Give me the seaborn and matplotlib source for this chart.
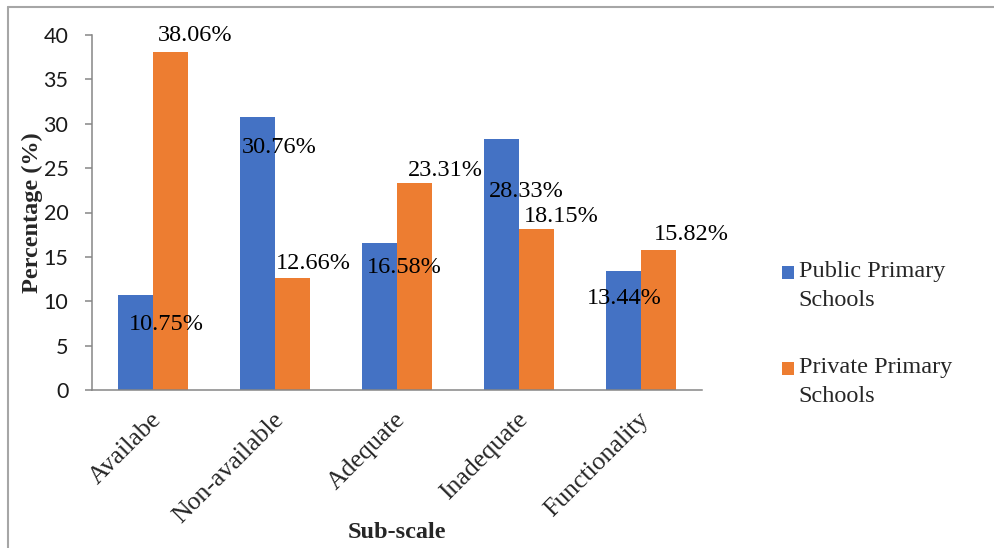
import matplotlib
matplotlib.use("Agg")
import matplotlib.pyplot as plt
from matplotlib.patches import Patch, Rectangle
from matplotlib.legend_handler import HandlerPatch
from matplotlib.lines import Line2D
from matplotlib.transforms import ScaledTranslation
import seaborn as sns
import pandas as pd

# Data
categories = ["Availabe", "Non-available", "Adequate", "Inadequate", "Functionality"]
public_values = [10.75, 30.76, 16.58, 28.33, 13.44]
private_values = [38.06, 12.66, 23.31, 18.15, 15.82]
series_names = ["Public Primary Schools", "Private Primary Schools"]
legend_labels = ["Public Primary\nSchools", "Private Primary\nSchools"]
y_ticks = [0, 5, 10, 15, 20, 25, 30, 35, 40]

colors = ["#4472C4", "#ED7D31"]
SERIF = "Liberation Serif"
SANS = "Lato"
FS = 17.5

# Label offsets in pixels (dx right, dy up) relative to each bar's top centre
public_offsets = [(30.5, -30.4), (21.5, -30), (24.5, -25), (24.5, -53.4), (0.5, -27.3)]
private_offsets = [(24.5, 17.2), (20.5, 14.6), (30.5, 13), (24.5, 12), (32.5, 14.6)]

sns.set_theme(style="white")
plt.rcParams["font.family"] = [SERIF, "DejaVu Sans"]

df = pd.DataFrame({
    "Sub-scale": categories * 2,
    "Percentage": public_values + private_values,
    "Series": [series_names[0]] * len(categories) + [series_names[1]] * len(categories),
})

fig = plt.figure(figsize=(9.95, 5.48), dpi=100)
ax = fig.add_axes([92 / 995, 1 - 390 / 548, 610 / 995, 355 / 548])

sns.barplot(data=df, x="Sub-scale", y="Percentage", hue="Series",
            palette=colors, saturation=1, width=0.57, ax=ax,
            legend=False, edgecolor="none", errorbar=None)

ax.set_xlim(-0.5, len(categories) - 0.5)
ax.set_ylim(0, 40)
ax.set_yticks(y_ticks)
ax.set_yticklabels([str(t) for t in y_ticks], family=SANS, fontsize=15.5, color="#1a1a1a")

# Category axis: labels at centres, ticks at category boundaries
ax.set_xticks(range(len(categories)))
ax.set_xticklabels(categories, rotation=45, ha="right", va="center",
                   rotation_mode="anchor", family=SERIF, fontsize=18.5)
ax.set_xticks([i - 0.5 for i in range(len(categories) + 1)], minor=True)
ax.tick_params(axis="x", which="major", length=0, pad=19)
ax.tick_params(axis="x", which="minor", length=6, width=1.1, color="#868686", direction="out")
ax.tick_params(axis="y", length=5, width=1.1, color="#868686", direction="out", pad=12, left=True)

# Nudge the slanted category labels a little to the right
shift = ScaledTranslation(5 / 100, 0, fig.dpi_scale_trans)
for lbl in ax.get_xticklabels():
    lbl.set_transform(lbl.get_transform() + shift)

for side in ["top", "right"]:
    ax.spines[side].set_visible(False)
for side in ["left", "bottom"]:
    ax.spines[side].set_color("#868686")
    ax.spines[side].set_linewidth(1.1)

ax.set_xlabel("Sub-scale", family=SERIF, fontsize=FS, fontweight="bold", va="center")
ax.xaxis.set_label_coords(0.5, -0.40)
ax.set_ylabel("Percentage (%)", family=SERIF, fontsize=FS, fontweight="bold", va="center", ha="center")
ax.yaxis.set_label_coords(-0.098, 0.5)

# Value labels
px2pt = 72 / fig.dpi
for container, values, offsets in zip(ax.containers, [public_values, private_values],
                                      [public_offsets, private_offsets]):
    for bar, v, (dx, dy) in zip(container, values, offsets):
        ax.annotate(f"{v:.2f}%", xy=(bar.get_x() + bar.get_width() / 2, v),
                    xytext=(dx * px2pt, dy * px2pt), textcoords="offset points",
                    ha="center", va="center", family=SERIF, fontsize=FS, color="black")

# Legend with the swatch beside the first line of each label
line_step = 13 * px2pt


def top_square(legend, orig_handle, xdescent, ydescent, width, height, fontsize):
    return Rectangle((-xdescent, -ydescent + line_step), width, height)


handles = [Patch(facecolor=c, edgecolor="none") for c in colors]
leg = fig.legend(handles, legend_labels, loc="upper left",
                 bbox_to_anchor=(782 / 995, 1 - 261 / 548),
                 frameon=False, borderpad=0, borderaxespad=0,
                 handlelength=0.49, handleheight=0.49, handletextpad=0.2,
                 labelspacing=1.9, prop={"family": SERIF, "size": FS},
                 handler_map={Patch: HandlerPatch(patch_func=top_square)})
for t in leg.get_texts():
    t.set_linespacing(1.5)

# Outer frame lines
fig.add_artist(Line2D([8 / 995, 8 / 995], [0, 1 - 7 / 548], transform=fig.transFigure,
                      color="#a6a6a6", lw=1.5))
fig.add_artist(Line2D([8 / 995, 1], [1 - 7 / 548, 1 - 7 / 548], transform=fig.transFigure,
                      color="#a6a6a6", lw=1.5))

fig.savefig("out.png", dpi=100)
